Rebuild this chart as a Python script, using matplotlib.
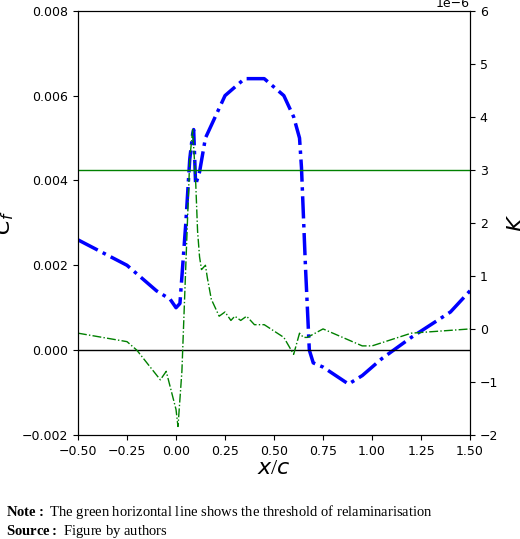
import matplotlib
matplotlib.use("Agg")
import matplotlib.pyplot as plt
import numpy as np

cf_x = [-0.5,-0.25,-0.1,-0.03,0.0,0.02,0.05,0.07,0.085,0.09,0.1,0.12,0.15,0.25,0.35,0.45,0.55,0.6,0.63,0.64,0.66,0.68,0.7,0.75,0.88,0.95,1.05,1.2,1.4,1.5]
cf_y = [0.0026,0.002,0.0014,0.0012,0.001,0.0011,0.003,0.0045,0.0051,0.0052,0.0039,0.0042,0.005,0.006,0.0064,0.0064,0.006,0.0055,0.005,0.0043,0.002,0.0,-0.0003,-0.0004,-0.0008,-0.0006,-0.0002,0.0003,0.0009,0.0014]

k_x = [-0.5,-0.25,-0.2,-0.08,-0.05,0.0,0.01,0.03,0.05,0.07,0.085,0.1,0.11,0.12,0.13,0.15,0.16,0.18,0.2,0.22,0.25,0.28,0.3,0.33,0.36,0.4,0.45,0.55,0.6,0.63,0.65,0.67,0.75,0.8,0.85,0.9,0.95,1.0,1.2,1.5]
k_lvl = [0.0004,0.0002,0.0,-0.0007,-0.0005,-0.0014,-0.0018,-0.0005,0.002,0.0045,0.0052,0.004,0.0028,0.0022,0.0019,0.002,0.0017,0.0012,0.001,0.0008,0.0009,0.0007,0.0008,0.0007,0.0008,0.0006,0.0006,0.0003,-0.0001,0.0004,0.0003,0.0003,0.0005,0.0004,0.0003,0.0002,0.0001,0.0001,0.0004,0.0005]
k_y = [(-2 + (v + 0.002) * 800) * 1e-6 for v in k_lvl]
k_threshold = 3.0e-6

plt.rcParams['mathtext.fontset'] = 'custom'
plt.rcParams['mathtext.bf'] = 'Liberation Serif:bold'
plt.rcParams['mathtext.rm'] = 'Liberation Serif'
plt.rcParams['mathtext.it'] = 'DejaVu Sans:italic'

fig = plt.figure(figsize=(5.2, 5.39), dpi=100)
ax = fig.add_axes([0.15, 0.193, 0.754, 0.787])
ax.plot(cf_x, cf_y, color='blue', ls='-.', lw=2.5)
ax.axhline(0, color='black', lw=1)
ax.set_xlim(-0.5, 1.5)
ax.set_ylim(-0.002, 0.008)
ax.set_xticks(np.arange(-0.5, 1.51, 0.25))
ax.set_yticks(np.arange(-0.002, 0.0081, 0.002))
ax.tick_params(labelsize=9)
ax.set_xlabel('$x/c$', fontsize=16, labelpad=0)
ax.set_ylabel('$C_f$', fontsize=16, labelpad=4)
ax2 = ax.twinx()
ax2.plot(k_x, k_y, color='green', ls='-.', lw=1)
ax2.axhline(k_threshold, color='green', lw=1)
ax2.set_ylim(-2e-6, 6e-6)
ax2.tick_params(labelsize=9)
ax2.yaxis.get_offset_text().set_fontsize(9)
ax2.set_ylabel('$K$', fontsize=16, labelpad=6)

fig.text(0.012, 0.042, r'$\mathbf{Note:}$ The green horizontal line shows the threshold of relaminarisation',
         fontsize=10.5, family='Liberation Serif')
fig.text(0.012, 0.008, r'$\mathbf{Source:}$ Figure by authors', fontsize=10.5, family='Liberation Serif')
fig.savefig('out.png', dpi=100)
